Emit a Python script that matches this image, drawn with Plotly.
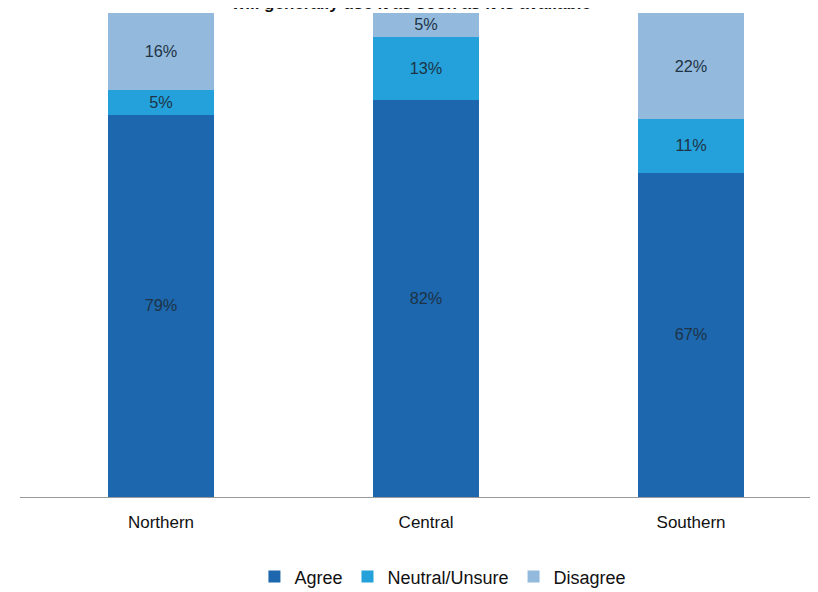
import plotly.graph_objects as go

regions = ["Northern", "Central", "Southern"]
agree = [79, 82, 67]
neutral = [5, 13, 11]
disagree = [16, 5, 22]
series_names = ["Agree", "Neutral/Unsure", "Disagree"]
colors = ["#1c67ad", "#24a1da", "#93badc"]
title_text = "will generally use it as soon as it is available"

fig = go.Figure()
for name, vals, col in zip(series_names, [agree, neutral, disagree], colors):
    fig.add_trace(go.Bar(
        x=regions, y=vals, name=name, width=0.4,
        marker=dict(color=col, line=dict(width=0)),
        text=[f"{v}%" for v in vals], textposition="inside",
        insidetextanchor="middle",
        textfont=dict(color="#1e3346", size=17, family="Liberation Sans, Arial, sans-serif"),
    ))

fig.add_annotation(
    text=f"<b>{title_text}</b>", xref="paper", yref="paper", x=0.49, y=1,
    xanchor="center", yanchor="bottom", yshift=-2, showarrow=False,
    font=dict(size=17, color="#111111", family="Liberation Sans, Arial, sans-serif"),
)

fig.update_layout(
    barmode="stack",
    width=818, height=592,
    margin=dict(l=12, r=8, t=5, b=103),
    paper_bgcolor="white", plot_bgcolor="white",
    font=dict(family="Liberation Sans, Arial, sans-serif", color="#111111"),
    showlegend=True,
    legend=dict(orientation="h", x=0.53, xanchor="center", y=-0.165, yanchor="middle",
                font=dict(size=18, color="#111111"), traceorder="normal",
                itemwidth=30, tracegroupgap=0),
    uniformtext=dict(minsize=8, mode="show"),
)
fig.update_xaxes(range=[-0.532, 2.479], showline=True, linecolor="#9a9a9a", linewidth=1,
                 ticks="", ticklabelstandoff=10,
                 tickfont=dict(size=17, color="#111111"), showgrid=False)
fig.update_yaxes(range=[0, 100], visible=False, showgrid=False)

fig.write_html("out.html")
